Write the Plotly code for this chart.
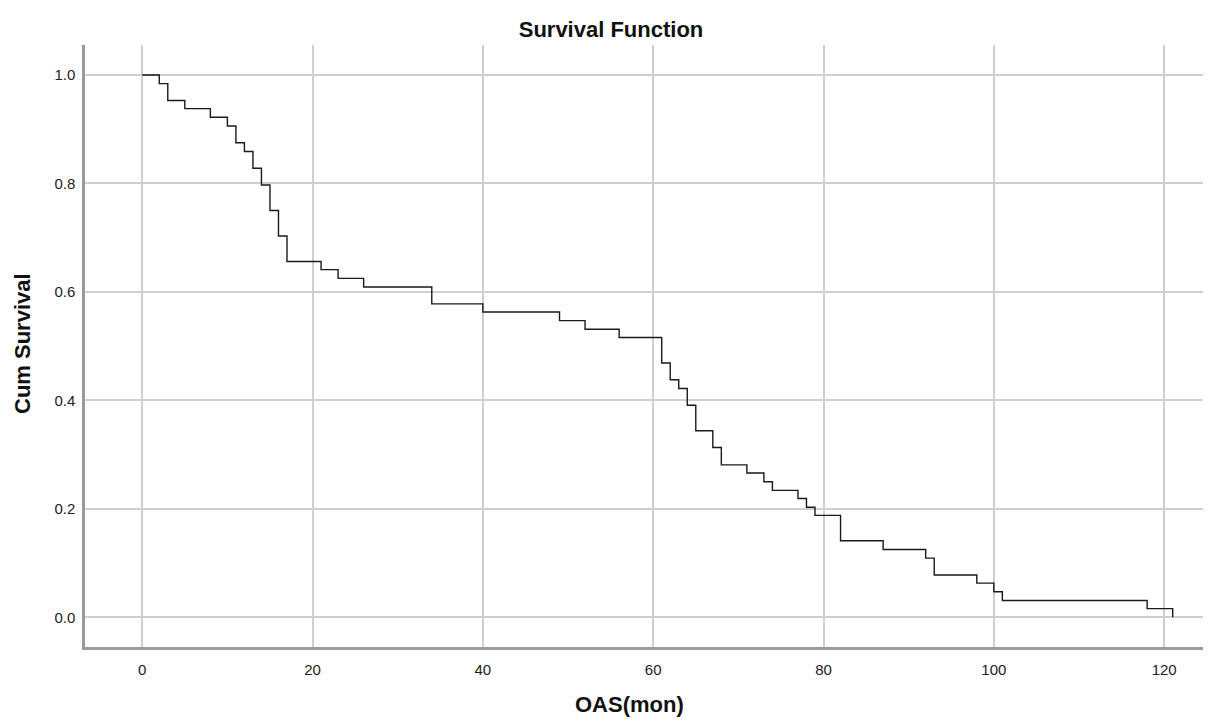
import plotly.graph_objects as go

# Kaplan-Meier step curve
time_months = [0, 2, 3, 5, 8, 10, 11, 12, 13, 14, 15, 16, 17, 21, 23, 26, 34, 40, 49,
               52, 56, 61, 62, 63, 64, 65, 67, 68, 71, 73, 74, 77, 78, 79, 82, 87, 92,
               93, 98, 100, 101, 118, 121]
cum_survival = [1.000, 0.984, 0.953, 0.938, 0.922, 0.906, 0.875, 0.859, 0.828, 0.797,
                0.750, 0.703, 0.656, 0.641, 0.625, 0.609, 0.578, 0.563, 0.547, 0.531,
                0.516, 0.469, 0.438, 0.422, 0.391, 0.344, 0.313, 0.281, 0.266, 0.250,
                0.234, 0.219, 0.203, 0.188, 0.141, 0.125, 0.109, 0.078, 0.063, 0.047,
                0.031, 0.016, 0.000]

x_ticks = [0, 20, 40, 60, 80, 100, 120]
y_ticks = [0.0, 0.2, 0.4, 0.6, 0.8, 1.0]
y_tick_labels = ["0.0", "0.2", "0.4", "0.6", "0.8", "1.0"]

fig = go.Figure()
fig.add_trace(go.Scatter(
    x=time_months, y=cum_survival, mode="lines",
    line=dict(shape="hv", color="#1a1a1a", width=1.4),
    showlegend=False, hoverinfo="x+y"))

font_family = "Liberation Sans, Arial, sans-serif"

# page is offset by the default 8px body margin; figure is sized to fill the rest
W, H = 1203, 716
L, R, T, B = 77, 0, 37, 77
plot_w = W - L - R
plot_h = H - T - B

fig.update_layout(
    width=W, height=H,
    margin=dict(l=L, r=R, t=T, b=B),
    paper_bgcolor="white", plot_bgcolor="white",
    font=dict(family=font_family, color="#222222", size=15),
    title=dict(text="<b>Survival Function</b>", x=(611 - 8) / W, xanchor="center",
               y=1 - 21 / H, yanchor="middle",
               font=dict(size=22, family=font_family, color="#111111")),
    xaxis=dict(
        range=[-6.72, 125.5], tickvals=x_ticks, ticktext=[str(v) for v in x_ticks],
        showgrid=True, gridcolor="#cfcfcf", gridwidth=1.5,
        zeroline=False, showline=True, linecolor="#9a9a9a", linewidth=2.5,
        ticks="outside", ticklen=7, tickcolor="rgba(0,0,0,0)",
        tickfont=dict(size=15, color="#222222"),
    ),
    yaxis=dict(
        range=[-0.0548, 1.0553], tickvals=y_ticks, ticktext=y_tick_labels,
        showgrid=True, gridcolor="#cfcfcf", gridwidth=1.5,
        zeroline=False, showline=True, linecolor="#9a9a9a", linewidth=2.5,
        ticks="outside", ticklen=4, tickcolor="rgba(0,0,0,0)",
        tickfont=dict(size=15, color="#222222"),
    ),
    annotations=[
        dict(text="<b>OAS(mon)</b>", xref="paper", yref="paper",
             x=(629 - 8 - L) / plot_w, y=(H - B - (704 - 8)) / plot_h,
             xanchor="center", yanchor="middle", showarrow=False,
             font=dict(size=22, color="#111111")),
        dict(text="<b>Cum Survival</b>", xref="paper", yref="paper",
             x=(22 - 8 - L) / plot_w, y=(H - B - (344 - 8)) / plot_h,
             xanchor="center", yanchor="middle", showarrow=False, textangle=-90,
             font=dict(size=22, color="#111111")),
    ],
)

fig.write_html("out.html")
